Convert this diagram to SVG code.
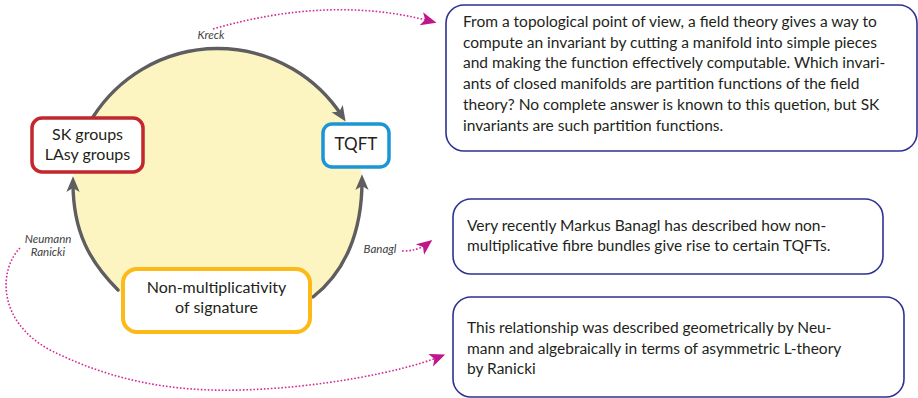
<svg xmlns="http://www.w3.org/2000/svg" width="918" height="398" viewBox="0 0 918 398">
  <style>
    .node-text { font-family: Lato, "Liberation Sans", sans-serif; fill: #231f20; text-anchor: middle; }
    .note-text { font-family: Lato, "Liberation Sans", sans-serif; font-size: 15.5px; fill: #231f20; }
    .label { font-family: Lato, "Liberation Sans", sans-serif; font-style: italic; font-size: 11.5px; fill: #404042; text-anchor: middle; }
    .note-box { fill: #fff; stroke: #2e3192; stroke-width: 1.6; }
    .flow { fill: none; stroke: #5e5e60; stroke-width: 3.4; stroke-linecap: round; }
    .link { fill: none; stroke: #d02a96; stroke-width: 1.6; stroke-dasharray: 1.6 1.9; }
  </style>
  <defs>
    <marker id="arrow-gray" markerUnits="userSpaceOnUse" markerWidth="20" markerHeight="20" viewBox="-10 -8 18 16" refX="0" refY="0" orient="auto" overflow="visible">
      <path d="M6,0 L-8,-6 L-4.5,0 L-8,6 Z" fill="#5e5e60"/>
    </marker>
    <marker id="arrow-pink" markerUnits="userSpaceOnUse" markerWidth="20" markerHeight="20" viewBox="-10 -8 18 16" refX="0" refY="0" orient="auto" overflow="visible">
      <path d="M6,0 L-8,-6 L-4.5,0 L-8,6 Z" fill="#c0168c"/>
    </marker>
  </defs>

  <!-- pale yellow disc behind the cycle -->
  <path id="cycle-fill" d="M118,292 C 90,262 73,232 73,182 A148,148 0 0 1 93,117 A148,148 0 0 1 345,121 A148,148 0 0 1 362,178 C 362,232 345,272 313,297 Z" fill="#fcf4c1"/>

  <g id="connectors">
    <!-- cycle arrows -->
    <path class="flow" d="M93,117 A148,148 0 0 1 342,116" marker-end="url(#arrow-gray)"/>
    <path class="flow" d="M118,290 C 90,262 73,232 73,183" marker-end="url(#arrow-gray)"/>
    <path class="flow" d="M313,297 C 345,272 362,232 362,181" marker-end="url(#arrow-gray)"/>
    <!-- dotted references to the notes -->
    <path class="link" d="M213,29 Q 330,-5 430,21" marker-end="url(#arrow-pink)"/>
    <path class="link" d="M402,251 Q 418,251 427,244" marker-end="url(#arrow-pink)"/>
    <path class="link" d="M20,248 C 0,268 -5,320 50,350 C 110,380 170,392 240,390 C 320,388 400,372 439,357" marker-end="url(#arrow-pink)"/>
    <!-- connector labels -->
    <text class="label" x="211" y="39">Kreck</text>
    <text class="label" x="48" y="243">Neumann</text>
    <text class="label" x="48" y="256">Ranicki</text>
    <text class="label" x="380" y="253">Banagl</text>
  </g>

  <g id="sk-groups">
    <rect x="32" y="118" width="111" height="54" rx="10" fill="#fff" stroke="#c1272d" stroke-width="3.5"/>
    <text class="node-text" x="87.5" y="140" font-size="16">SK groups</text>
    <text class="node-text" x="87.5" y="160" font-size="16">LAsy groups</text>
  </g>

  <g id="tqft">
    <rect x="323" y="124" width="66" height="43" rx="9" fill="#fff" stroke="#1b95d5" stroke-width="3.5"/>
    <text class="node-text" x="356" y="150" font-size="17">TQFT</text>
  </g>

  <g id="non-multiplicativity">
    <rect x="123" y="269" width="187" height="63" rx="14" fill="#fff" stroke="#fcb918" stroke-width="4"/>
    <text class="node-text" x="216.5" y="293" font-size="16">Non-multiplicativity</text>
    <text class="node-text" x="216.5" y="313" font-size="16">of signature</text>
  </g>

  <g id="note-field-theory">
    <rect class="note-box" x="446" y="5" width="471" height="146" rx="18"/>
    <text class="note-text" x="463" y="27">From a topological point of view, a field theory gives a way to</text>
    <text class="note-text" x="463" y="47.7">compute an invariant by cutting a manifold into simple pieces</text>
    <text class="note-text" x="463" y="68.4">and making the function effectively computable. Which invari-</text>
    <text class="note-text" x="463" y="89.1">ants of closed manifolds are partition functions of the field</text>
    <text class="note-text" x="463" y="109.8">theory? No complete answer is known to this quetion, but SK</text>
    <text class="note-text" x="463" y="130.5">invariants are such partition functions.</text>
  </g>

  <g id="note-banagl">
    <rect class="note-box" x="453" y="199" width="430" height="75" rx="18"/>
    <text class="note-text" x="467" y="230.5">Very recently Markus Banagl has described how non-</text>
    <text class="note-text" x="467" y="250.8">multiplicative fibre bundles give rise to certain TQFTs.</text>
  </g>

  <g id="note-neumann-ranicki">
    <rect class="note-box" x="453" y="297" width="451" height="100" rx="18"/>
    <text class="note-text" x="467" y="333.3">This relationship was described geometrically by Neu-</text>
    <text class="note-text" x="467" y="353.8">mann and algebraically in terms of asymmetric L-theory</text>
    <text class="note-text" x="467" y="374.3">by Ranicki</text>
  </g>
</svg>
